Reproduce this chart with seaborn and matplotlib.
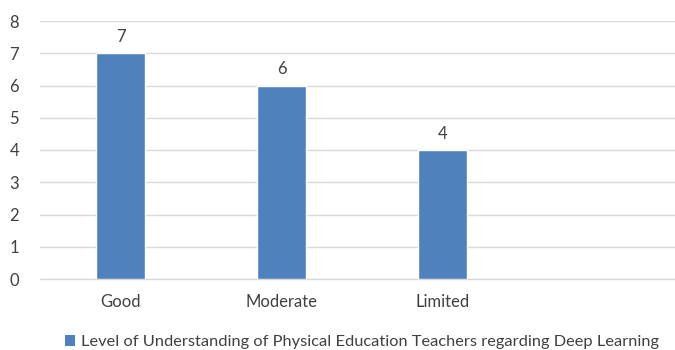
import matplotlib
matplotlib.use('Agg')
import matplotlib.pyplot as plt
import seaborn as sns
import pandas as pd
from matplotlib.patches import Patch

categories = ['Good', 'Moderate', 'Limited']
counts = [7, 6, 4]
series_name = 'Level of Understanding of Physical Education Teachers regarding Deep Learning'

df = pd.DataFrame({'level': categories, 'count': counts})

sns.set_style('white')
plt.rcParams['font.family'] = ['Lato', 'DejaVu Sans']

bar_color = '#4F81BD'
grid_color = '#D9D9D9'
text_color = '#404040'

fig = plt.figure(figsize=(6.75, 3.5), dpi=100)
ax = fig.add_axes([40 / 675, 71 / 350, 644 / 675, 258 / 350])

sns.barplot(data=df, x='level', y='count', color=bar_color, width=0.31,
            saturation=1, ax=ax, zorder=3)

ax.set_xlim(-0.5, 3.5)
ax.set_ylim(0, 8)
ax.set_yticks(range(0, 9))
ax.yaxis.grid(True, color=grid_color, linewidth=1, zorder=0)
ax.set_axisbelow(True)
for s in ['top', 'right', 'left']:
    ax.spines[s].set_visible(False)
ax.spines['bottom'].set_color(grid_color)
ax.spines['bottom'].set_linewidth(1)
ax.tick_params(axis='both', length=0, labelsize=12, colors=text_color)
ax.tick_params(axis='x', pad=11)
ax.tick_params(axis='y', pad=15)
ax.set_xlabel('')
ax.set_ylabel('')

for c in ax.containers:
    ax.bar_label(c, fmt='%d', padding=6, fontsize=12, color=text_color)

handle = Patch(facecolor=bar_color, edgecolor='none', label=series_name)
ax.legend(handles=[handle], loc='upper center', bbox_to_anchor=(0.5, -0.19),
          frameon=False, fontsize=11.8, handlelength=0.65, handleheight=0.65,
          handletextpad=0.35, labelcolor=text_color, borderaxespad=0)

plt.savefig('out.png', dpi=100)
